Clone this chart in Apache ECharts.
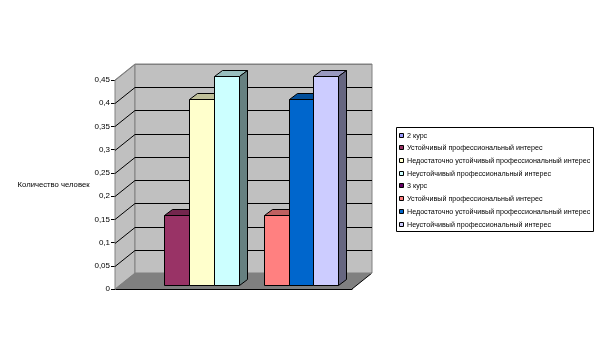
<!DOCTYPE html>
<html lang="ru">
<head>
	<meta charset="UTF-8">
	<title>Количество человек</title>
	<style>
	body, div {
		margin: 0;
		padding: 0;
	}
	#echart {
		width: 606px;
		height: 361px;
		background: #fff;
	}
	</style>
</head>
<body>
	<div id="echart"></div>

	<script src="https://cdn.jsdelivr.net/npm/echarts@6/dist/echarts.min.js"></script>

	<script>
	// data
	var categories = [''];
	var seriesLabels = [
		'2 курс',
		'Устойчивый профессиональный интерес',
		'Недостаточно устойчивый профессиональный интерес',
		'Неустойчивый профессиональный интерес',
		'3 курс',
		'Устойчивый профессиональный интерес',
		'Недостаточно устойчивый профессиональный интерес',
		'Неустойчивый профессиональный интерес'
	];
	var seriesValues = [null, 0.15, 0.4, 0.45, null, 0.15, 0.4, 0.45];
	var seriesColors = ['#9999FF', '#993366', '#FFFFCC', '#CCFFFF', '#660066', '#FF8080', '#0066CC', '#CCCCFF'];
	var yTicks = [0, 0.05, 0.1, 0.15, 0.2, 0.25, 0.3, 0.35, 0.4, 0.45];
	var yTickLabels = ['0', '0,05', '0,1', '0,15', '0,2', '0,25', '0,3', '0,35', '0,4', '0,45'];
	var yName = 'Количество человек';

	var FONT = '"Liberation Sans", Arial, sans-serif';

	// fake 3d: how far the back wall and the bars are pushed from the front plane
	var WALL_DX = 20, WALL_DY = -16;
	var BAR_DX = 5.3, BAR_DY = -4;
	var BAR_DEPTH_X = 8, BAR_DEPTH_Y = -6;
	var SIDE_PAD = 19;

	function shade(hex, k) {
		var n = parseInt(hex.slice(1), 16);
		var r = Math.round((n >> 16 & 255) * k);
		var g = Math.round((n >> 8 & 255) * k);
		var b = Math.round((n & 255) * k);
		return 'rgb(' + r + ',' + g + ',' + b + ')';
	}

	function poly(points, fill, stroke) {
		return {
			type: 'polygon',
			shape: { points: points },
			style: { fill: fill, stroke: stroke || null, lineWidth: 1 }
		};
	}

	function renderWalls(params) {
		var c = params.coordSys;
		var l = c.x, r = c.x + c.width, t = c.y, b = c.y + c.height;
		return {
			type: 'group',
			children: [
				// floor
				poly([[l, b], [l + WALL_DX, b + WALL_DY], [r + WALL_DX, b + WALL_DY], [r, b]], '#808080'),
				// left wall
				poly([[l, t], [l + WALL_DX, t + WALL_DY], [l + WALL_DX, b + WALL_DY], [l, b]], '#C0C0C0', '#808080'),
				// back wall
				poly([[l + WALL_DX, t + WALL_DY], [r + WALL_DX, t + WALL_DY], [r + WALL_DX, b + WALL_DY], [l + WALL_DX, b + WALL_DY]], '#C0C0C0', '#808080'),
				// right floor edge
				{
					type: 'line',
					shape: { x1: r, y1: b, x2: r + WALL_DX, y2: b + WALL_DY },
					style: { stroke: '#000', lineWidth: 1 }
				}
			]
		};
	}

	function renderGridLine(params, api) {
		var c = params.coordSys;
		var p = api.coord([0, api.value(1)]);
		var y = Math.round(p[1]) + 0.5;
		var l = c.x, r = c.x + c.width;
		var isEdge = params.dataIndex === 0 || params.dataIndex === yTicks.length - 1;
		return {
			type: 'polyline',
			shape: { points: [[l, y], [l + WALL_DX, y + WALL_DY], [r + WALL_DX, y + WALL_DY]] },
			style: { stroke: isEdge ? '#808080' : '#000', lineWidth: 1, fill: null }
		};
	}

	function renderBar(params, api) {
		var c = params.coordSys;
		var i = params.seriesIndex - 2;
		var color = seriesColors[i];
		var slot = (c.width - SIDE_PAD * 2) / seriesLabels.length;
		var x0 = Math.round(c.x + SIDE_PAD + slot * i + BAR_DX) + 0.5;
		var x1 = Math.round(c.x + SIDE_PAD + slot * (i + 1) + BAR_DX) + 0.5;
		var y0 = Math.round(api.coord([0, 0])[1] + BAR_DY) + 0.5;
		var y1 = Math.round(api.coord([0, api.value(1)])[1] + BAR_DY) + 0.5;
		var dx = BAR_DEPTH_X, dy = BAR_DEPTH_Y;
		return {
			type: 'group',
			children: [
				poly([[x0, y1], [x0 + dx, y1 + dy], [x1 + dx, y1 + dy], [x1, y1]], shade(color, 0.75), '#000'),
				poly([[x1, y1], [x1 + dx, y1 + dy], [x1 + dx, y0 + dy], [x1, y0]], shade(color, 0.5), '#000'),
				poly([[x0, y1], [x1, y1], [x1, y0], [x0, y0]], color, '#000')
			]
		};
	}

	var series = [
		{
			name: 'walls',
			type: 'custom',
			silent: true,
			clip: false,
			renderItem: renderWalls,
			data: [[0, 0]]
		},
		{
			name: 'gridlines',
			type: 'custom',
			silent: true,
			clip: false,
			renderItem: renderGridLine,
			data: yTicks.map(function (v) { return [0, v]; })
		}
	];

	seriesLabels.forEach(function (label, i) {
		series.push({
			name: label,
			type: 'custom',
			clip: false,
			renderItem: renderBar,
			itemStyle: { color: seriesColors[i] },
			encode: { x: 0, y: 1 },
			data: seriesValues[i] === null ? [] : [[0, seriesValues[i]]]
		});
	});

	// legend drawn by hand: the built-in one drops repeated names
	// and fixes the gap between marker and text
	var legendItems = [
		{
			type: 'rect',
			shape: { x: 396.5, y: 127.5, width: 197, height: 104 },
			style: { fill: '#fff', stroke: '#000', lineWidth: 1 }
		}
	];
	seriesLabels.forEach(function (label, i) {
		var y = Math.round(135.6 + i * 12.7);
		legendItems.push({
			type: 'rect',
			shape: { x: 399.5, y: y - 2.5, width: 4, height: 4 },
			style: { fill: seriesColors[i], stroke: '#000', lineWidth: 1 }
		});
		legendItems.push({
			type: 'text',
			x: 407,
			y: y + 0.5,
			style: {
				text: label,
				font: '7.15px ' + FONT,
				fill: '#000',
				verticalAlign: 'middle'
			}
		});
	});

	var myEchart = echarts.init(document.getElementById('echart'));

	myEchart.setOption({
		animation: false,
		backgroundColor: '#fff',
		textStyle: { fontFamily: FONT },
		grid: { left: 115, top: 80, width: 237, height: 209 },
		graphic: legendItems,
		xAxis: {
			type: 'category',
			data: categories,
			axisLine: { show: true, lineStyle: { color: '#000', width: 1 } },
			axisTick: { show: false },
			axisLabel: { show: false },
			splitLine: { show: false }
		},
		yAxis: {
			type: 'value',
			min: 0,
			max: 0.45,
			interval: 0.05,
			name: yName,
			nameLocation: 'middle',
			nameRotate: 0,
			nameGap: 25,
			nameTextStyle: { fontSize: 7.7, color: '#000', align: 'right', verticalAlign: 'middle' },
			axisLine: { show: true, lineStyle: { color: '#000', width: 1 } },
			axisTick: { show: true, length: 4, lineStyle: { color: '#000', width: 1 } },
			axisLabel: {
				fontSize: 8,
				color: '#000',
				margin: 5,
				formatter: function (value, index) {
					return yTickLabels[index];
				}
			},
			splitLine: { show: false }
		},
		series: series
	});
	</script>
</body>
</html>
